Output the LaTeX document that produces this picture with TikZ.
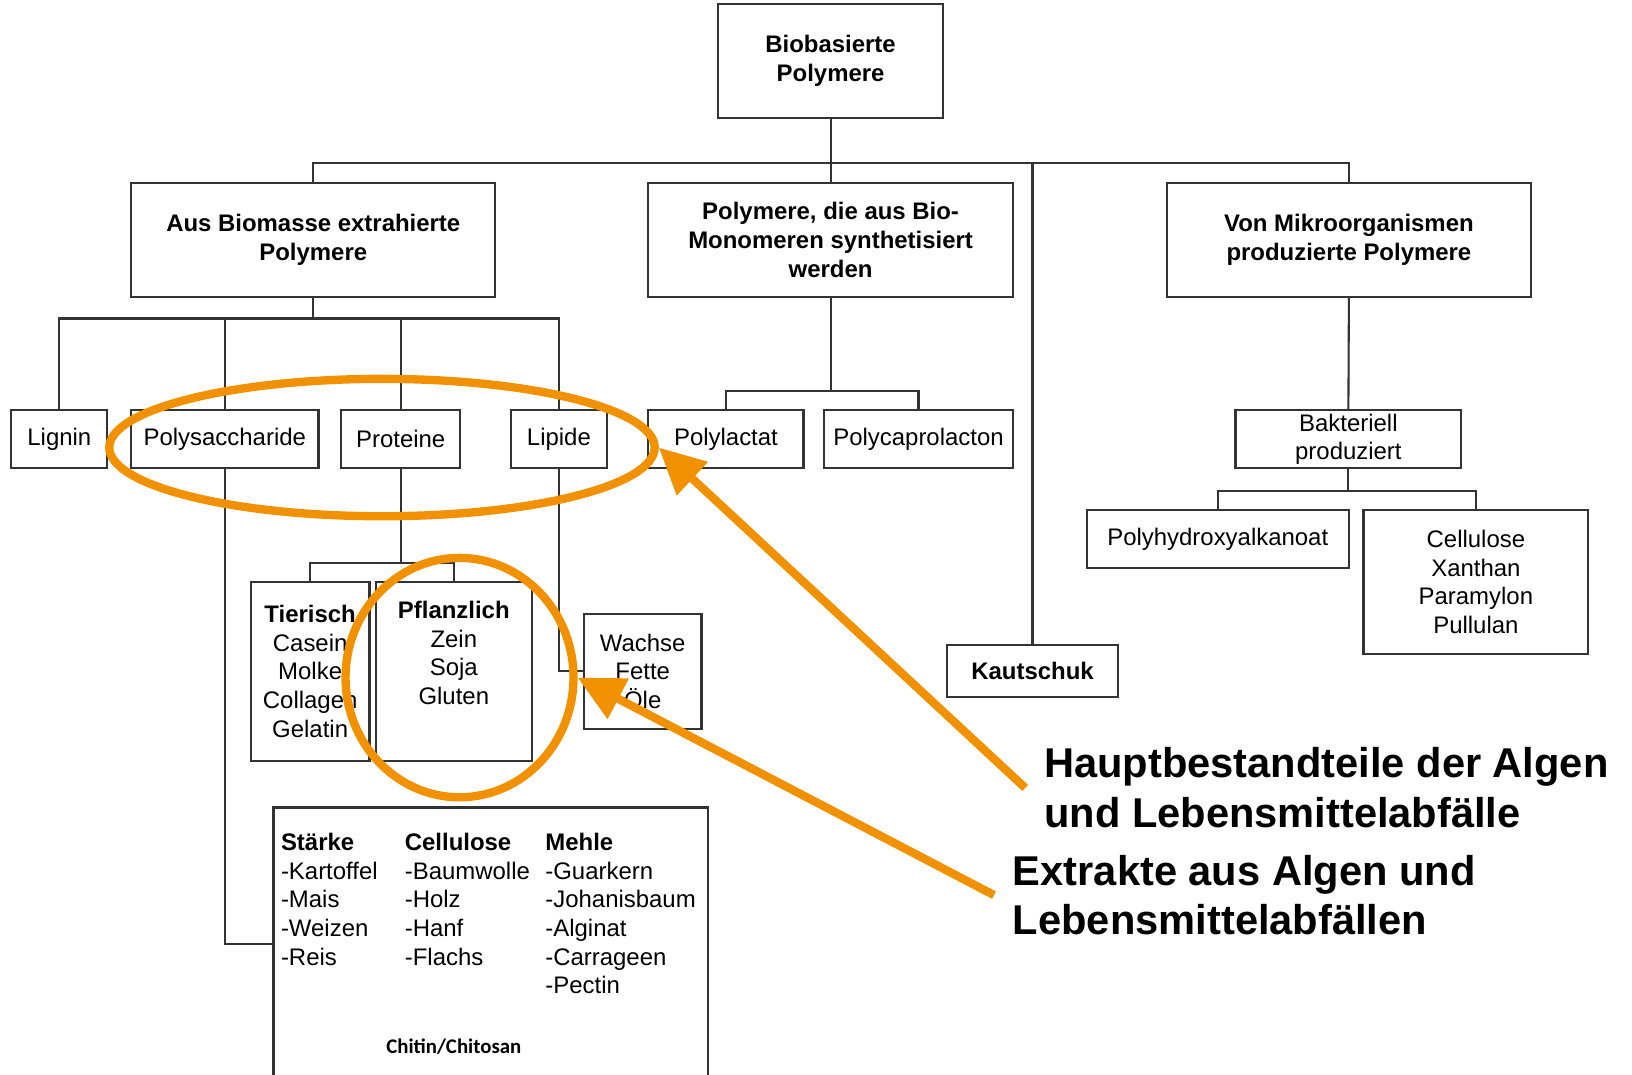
\documentclass[tikz,border=0pt]{standalone}
\usepackage{fontspec}
\setmainfont{Liberation Sans}
\newfontfamily\chitinfont{Carlito}
\usepackage{xcolor}
\usepackage{tikz}
\usetikzlibrary{positioning,arrows.meta,shapes.geometric,calc}
\definecolor{AlgaeOrange}{HTML}{F29100}
\definecolor{LineGray}{HTML}{333333}

\tikzset{
  catbox/.style={draw=LineGray, line width=2pt, fill=white, align=center,
                 inner sep=0pt, font=\fontsize{23}{27.5}\selectfont},
  headbox/.style={catbox, minimum width=350pt, minimum height=109pt,
                  font=\bfseries\fontsize{23}{27.5}\selectfont},
  leafbox/.style={catbox, minimum height=56pt},
  link/.style={draw=LineGray, line width=2pt},
  marker/.style={ellipse, draw=AlgaeOrange, line width=8pt, inner sep=0pt},
  pointer/.style={draw=AlgaeOrange, line width=8pt,
                  -{Triangle[length=44pt,width=42pt]}},
  note/.style={anchor=west, align=left, inner sep=0pt,
               font=\bfseries\fontsize{40}{48}\selectfont}
}

\begin{document}
\begin{tikzpicture}[x=1pt, y=-1pt]
  \useasboundingbox (0,0) rectangle (1568,1032);

  % top levels
  \node[catbox, minimum width=216pt, minimum height=109pt,
        font=\bfseries\fontsize{23}{27.5}\selectfont] (bio) at (798,58.5) {Biobasierte\\Polymere};
  \node[headbox] (ext) at (301,230.5) {Aus Biomasse extrahierte\\Polymere};
  \node[headbox] (syn) at (798,230.5) {Polymere, die aus Bio-\\Monomeren synthetisiert\\werden};
  \node[headbox] (mik) at (1296,230.5) {Von Mikroorganismen\\produzierte Polymere};
  \node[leafbox, minimum width=164pt, minimum height=50pt,
        font=\bfseries\fontsize{23}{27.5}\selectfont] (kaut) at (992,645) {Kautschuk};

  % extracted from biomass
  \node[leafbox, minimum width=92pt] (lignin) at (57,422) {Lignin};
  \node[leafbox, minimum width=180pt] (polysac) at (216,422) {Polysaccharide};
  \node[leafbox, minimum width=114pt] (protein) at (385,422) {Proteine};
  \node[leafbox, minimum width=92pt] (lipid) at (537,422) {Lipide};
  \node[catbox, minimum width=114pt, minimum height=172pt] (tier) at (298,645)
    {\textbf{Tierisch}\\Casein\\Molke\\Collagen\\Gelatin};
  \node[catbox, minimum width=150pt, minimum height=172pt] (pflanz) at (436,645)
    {\textbf{Pflanzlich}\\Zein\\Soja\\Gluten\\\strut};
  \node[catbox, minimum width=113pt, minimum height=110pt] (wachs) at (617.5,645)
    {Wachse\\Fette\\Öle};
  \node[minimum width=417pt, minimum height=262pt, inner sep=0pt] (starch) at (471.5,907) {};
  \node[anchor=north west, inner sep=0pt, font=\fontsize{23}{27.5}\selectfont] (starchtab)
    at ([shift={(7,22)}]starch.north west) {%
    \begin{tabular}{@{}p{119pt}@{}p{135pt}@{}l@{}}
      \textbf{Stärke} & \textbf{Cellulose} & \textbf{Mehle}\\
      -Kartoffel & -Baumwolle & -Guarkern\\
      -Mais & -Holz & -Johanisbaum\\
      -Weizen & -Hanf & -Alginat\\
      -Reis & -Flachs & -Carrageen\\
       & & -Pectin
    \end{tabular}};
  \node[inner sep=0pt, font=\chitinfont\bfseries\fontsize{20}{24}\selectfont] (chitin)
    at (436,1006) {Chitin/Chitosan};

  % synthesised
  \node[leafbox, minimum width=149pt] (pla) at (697.5,422) {Polylactat};
  \node[leafbox, minimum width=181pt] (pcl) at (882.5,422) {Polycaprolacton};

  % microorganisms
  \node[leafbox, minimum width=217pt] (bakt) at (1295.5,422) {Bakteriell\\produziert};
  \node[leafbox, minimum width=252pt] (pha) at (1170,518) {Polyhydroxyalkanoat};
  \node[catbox, minimum width=216pt, minimum height=138pt] (bcell) at (1418,559)
    {Cellulose\\Xanthan\\Paramylon\\Pullulan};

  % connectors
  \draw[link] (bio.south) -- (syn.north);
  \draw[link] (bio.south) ++(0,43) -| (ext.north);
  \draw[link] (bio.south) ++(0,43) -| (mik.north);
  \draw[link] (bio.south) ++(0,43) -| (kaut.north);
  \foreach \leaf in {lignin,polysac,protein,lipid}
    \draw[link] (ext.south) -- ++(0,20) -| (\leaf.north);
  \foreach \leaf in {pla,pcl}
    \draw[link] (syn.south) -- ++(0,90) -| (\leaf.north);
  \foreach \leaf in {tier,pflanz}
    \draw[link] (protein.south) -- ++(0,90) -| (\leaf.north);
  \draw[link] (polysac.south) |- (starch.west);
  \draw[link] (lipid.south) |- (wachs.west);
  \draw[link] (mik.south) -- (bakt.north);
  \foreach \leaf in {pha,bcell}
    \draw[link] (bakt.south) -- ++(0,21) -| (\leaf.north);
  \draw[link] (starch.south west) -- (starch.north west) -- (starch.north east) -- (starch.south east);

  % highlights
  \node[marker, minimum width=524pt, minimum height=132pt] (ring) at (367,430) {};
  \node[marker, minimum width=219pt, minimum height=230pt] (loop) at (441.5,651) {};
  \node[note] (haupt) at (1003,757) {Hauptbestandteile der Algen\\und Lebensmittelabfälle};
  \node[note] (extr) at (973,860) {Extrakte aus Algen und\\Lebensmittelabfällen};
  \draw[pointer] ([xshift=-18pt]haupt.west) -- (ring.east);
  \draw[pointer] ([xshift=-18pt]extr.west) -- (loop.east);
\end{tikzpicture}
\end{document}
